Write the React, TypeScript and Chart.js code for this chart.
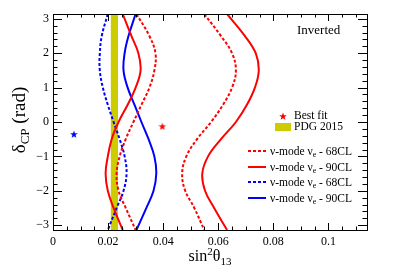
import React, { useEffect, useRef } from 'react';
import { Chart, registerables } from 'chart.js';
Chart.register(...registerables);

const deltaCP = [3.1416, 2.5, 2.0, 1.5, 1.0, 0.5, 0, -0.5, -1.0, -1.5, -2.0, -2.5, -3.1416];
const nuRed68Left = [0.0303, 0.035, 0.0372, 0.0368, 0.035, 0.0321, 0.0292, 0.0264, 0.0242, 0.0231, 0.0238, 0.0264, 0.03];
const nuRed68Right = [0.0549, 0.061, 0.065, 0.0664, 0.065, 0.0617, 0.0574, 0.0523, 0.0484, 0.0469, 0.048, 0.0513, 0.0549];
const nuRed90Left = [0.0253, 0.0285, 0.031, 0.0318, 0.03, 0.0271, 0.0238, 0.0213, 0.0199, 0.0191, 0.0199, 0.022, 0.0253];
const nuRed90Right = [0.0632, 0.0697, 0.0736, 0.0747, 0.0733, 0.0704, 0.0664, 0.061, 0.0563, 0.0542, 0.0552, 0.0585, 0.0632];
const nuBlue68 = [0.0199, 0.0177, 0.017, 0.017, 0.0181, 0.0199, 0.022, 0.0242, 0.026, 0.0267, 0.0256, 0.0231, 0.0199];
const nuBlue90 = [0.03, 0.0274, 0.026, 0.0256, 0.0271, 0.0296, 0.0321, 0.0347, 0.0368, 0.0375, 0.0365, 0.0339, 0.0303];
const bestFitRed = { x: 0.0397, y: -0.12 };
const bestFitBlue = { x: 0.0076, y: -0.35 };
const pdgBand = [0.021, 0.0236];
const xTicks = [0, 0.02, 0.04, 0.06, 0.08, 0.1];
const yTicks = [-3, -2, -1, 0, 1, 2, 3];
const legendLabels = ['68CL', '90CL', '68CL', '90CL'];
const legendColors = ['#ff0000', '#ff0000', '#0000ff', '#0000ff'];
const legendDashed = [true, false, true, false];

const FONT = '"Liberation Serif", "Times New Roman", serif';
const RED = '#ff0000';
const BLUE = '#0000ff';
const YELLOW = '#cccc00';
const DASH = [3, 2];

function makeStar(color: string, size: number) {
  const c = document.createElement('canvas');
  c.width = size;
  c.height = size;
  const g = c.getContext('2d')!;
  const cx = size / 2, cy = size / 2, R = size / 2, r = R * 0.42;
  g.beginPath();
  for (let i = 0; i < 10; i++) {
    const rad = i % 2 === 0 ? R : r;
    const a = -Math.PI / 2 + (i * Math.PI) / 5;
    const px = cx + rad * Math.cos(a), py = cy + rad * Math.sin(a) + 0.5;
    if (i === 0) g.moveTo(px, py); else g.lineTo(px, py);
  }
  g.closePath();
  g.fillStyle = color;
  g.fill();
  return c;
}

type Part = [string, number, number];
function richText(ctx: CanvasRenderingContext2D, parts: Part[], x: number, y: number, align: 'left' | 'center') {
  let total = 0;
  const widths = parts.map(([t, s]) => {
    ctx.font = `${s}px ${FONT}`;
    const w = ctx.measureText(t).width;
    total += w;
    return w;
  });
  let cx = align === 'center' ? x - total / 2 : x;
  ctx.textAlign = 'left';
  ctx.textBaseline = 'alphabetic';
  parts.forEach(([t, s, dy], i) => {
    ctx.font = `${s}px ${FONT}`;
    ctx.fillText(t, cx, y + dy);
    cx += widths[i];
  });
}

const bandPlugin = {
  id: 'band',
  beforeDatasetsDraw(chart: any) {
    const { ctx, chartArea: a, scales } = chart;
    const x0 = scales.x.getPixelForValue(pdgBand[0]);
    const x1 = scales.x.getPixelForValue(pdgBand[1]);
    ctx.save();
    ctx.fillStyle = YELLOW;
    ctx.fillRect(x0, a.top + 1, x1 - x0, a.bottom - a.top - 1);
    ctx.restore();
  },
};

const framePlugin = {
  id: 'frame',
  afterDraw(chart: any) {
    const { ctx, chartArea: a, scales } = chart;
    const xs = scales.x, ys = scales.y;
    ctx.save();
    ctx.strokeStyle = '#000';
    ctx.lineWidth = 1;
    ctx.strokeRect(Math.round(a.left) + 0.5, Math.round(a.top) + 0.5, Math.round(a.right - a.left), Math.round(a.bottom - a.top));
    ctx.beginPath();
    for (let i = 0; i <= 22; i++) {
      const v = i * 0.005;
      if (v > xs.max) break;
      const major = i % 4 === 0;
      const len = major ? 7 : 3.5;
      const px = Math.round(xs.getPixelForValue(v)) + 0.5;
      ctx.moveTo(px, a.bottom);
      ctx.lineTo(px, a.bottom - len);
      ctx.moveTo(px, a.top);
      ctx.lineTo(px, a.top + len);
    }
    for (let i = -15; i <= 15; i++) {
      const v = i * 0.2;
      if (v < ys.min || v > ys.max) continue;
      const major = i % 5 === 0;
      const len = major ? 9 : 4.5;
      const py = Math.round(ys.getPixelForValue(v)) + 0.5;
      ctx.moveTo(a.left, py);
      ctx.lineTo(a.left + len, py);
      ctx.moveTo(a.right, py);
      ctx.lineTo(a.right - len, py);
    }
    ctx.stroke();

    ctx.fillStyle = '#000';
    // x title
    richText(ctx, [['sin', 16, 0], ['2', 11, -6], ['θ', 16, 0], ['13', 11, 4]], (a.left + a.right) / 2, 261, 'center');
    // y title
    ctx.save();
    ctx.translate(25, (a.top + a.bottom) / 2 - 2);
    ctx.rotate(-Math.PI / 2);
    richText(ctx, [['δ', 19, 0], ['CP', 13, 4], [' (rad)', 19, 0]], 0, 0, 'center');
    ctx.restore();
    // Inverted
    richText(ctx, [['Inverted', 13, 0]], 297, 34, 'left');
    // legend
    const star = makeStar(RED, 8);
    ctx.drawImage(star, 279, 112);
    richText(ctx, [['Best fit', 11.5, 0]], 294, 119, 'left');
    ctx.fillStyle = YELLOW;
    ctx.fillRect(275, 123, 16, 8);
    ctx.fillStyle = '#000';
    richText(ctx, [['PDG 2015', 11.5, 0]], 294, 130, 'left');
    const rows = [151, 167, 182, 198];
    rows.forEach((ry, i) => {
      ctx.save();
      ctx.strokeStyle = legendColors[i];
      ctx.lineWidth = 2;
      ctx.setLineDash(legendDashed[i] ? DASH : []);
      ctx.beginPath();
      ctx.moveTo(248, ry);
      ctx.lineTo(266, ry);
      ctx.stroke();
      ctx.restore();
      ctx.fillStyle = '#000';
      richText(ctx, [['ν-mode ν', 11.5, 0], ['e', 8, 2], [' - ' + legendLabels[i], 11.5, 0]], 270, ry + 4, 'left');
    });
    ctx.restore();
  },
};

function curve(values: number[], color: string, dashed: boolean) {
  return {
    data: deltaCP.map((d, i) => ({ x: values[i], y: d })),
    showLine: true,
    borderColor: color,
    borderWidth: 2,
    borderDash: dashed ? DASH : [],
    pointRadius: 0,
    tension: 0.4,
    fill: false,
  };
}

export default function App() {
  const ref = useRef<HTMLCanvasElement>(null);
  useEffect(() => {
    const redStar = makeStar(RED, 8);
    const blueStar = makeStar(BLUE, 8);
    const chart = new Chart(ref.current!, {
      type: 'scatter',
      data: {
        datasets: [
          { data: [bestFitRed], pointStyle: redStar as any, pointRadius: 4, showLine: false },
          { data: [bestFitBlue], pointStyle: blueStar as any, pointRadius: 4, showLine: false },
          curve(nuRed68Left, RED, true),
          curve(nuRed68Right, RED, true),
          curve(nuRed90Left, RED, false),
          curve(nuRed90Right, RED, false),
          curve(nuBlue68, BLUE, true),
          curve(nuBlue90, BLUE, false),
        ] as any,
      },
      options: {
        animation: false,
        responsive: false,
        devicePixelRatio: 1,
        layout: { padding: { top: 14, right: 40, left: 0, bottom: 0 } },
        plugins: { legend: { display: false }, tooltip: { enabled: false } },
        scales: {
          x: {
            type: 'linear',
            min: 0,
            max: 0.114,
            grid: { display: false, drawTicks: false },
            border: { display: false },
            ticks: {
              color: '#000',
              font: { family: FONT, size: 12 },
              padding: 5,
              autoSkip: false,
              maxRotation: 0,
              callback: (v: any) => (v === 0 ? '0' : Math.abs(v - 0.1) < 1e-9 ? '0.1' : Number(v).toFixed(2)),
            },
            afterBuildTicks: (s: any) => {
              s.ticks = xTicks.map((v) => ({ value: v }));
            },
            afterFit: (s: any) => {
              s.height = 46;
            },
          },
          y: {
            type: 'linear',
            min: -Math.PI,
            max: Math.PI,
            grid: { display: false, drawTicks: false },
            border: { display: false },
            ticks: {
              color: '#000',
              font: { family: FONT, size: 12 },
              padding: 4,
              autoSkip: false,
              callback: (v: any) => (v < 0 ? '\u2212' + Math.abs(v) : String(v)),
            },
            afterBuildTicks: (s: any) => {
              s.ticks = yTicks.map((v) => ({ value: v }));
            },
            afterFit: (s: any) => {
              s.width = 53;
            },
          },
        },
      } as any,
      plugins: [bandPlugin, framePlugin],
    });
    return () => chart.destroy();
  }, []);
  return (
    <div style={{ position: 'fixed', left: 0, top: 0, width: 407, height: 276, background: '#fff' }}>
      <canvas ref={ref} width={407} height={276} style={{ display: 'block' }} />
    </div>
  );
}
